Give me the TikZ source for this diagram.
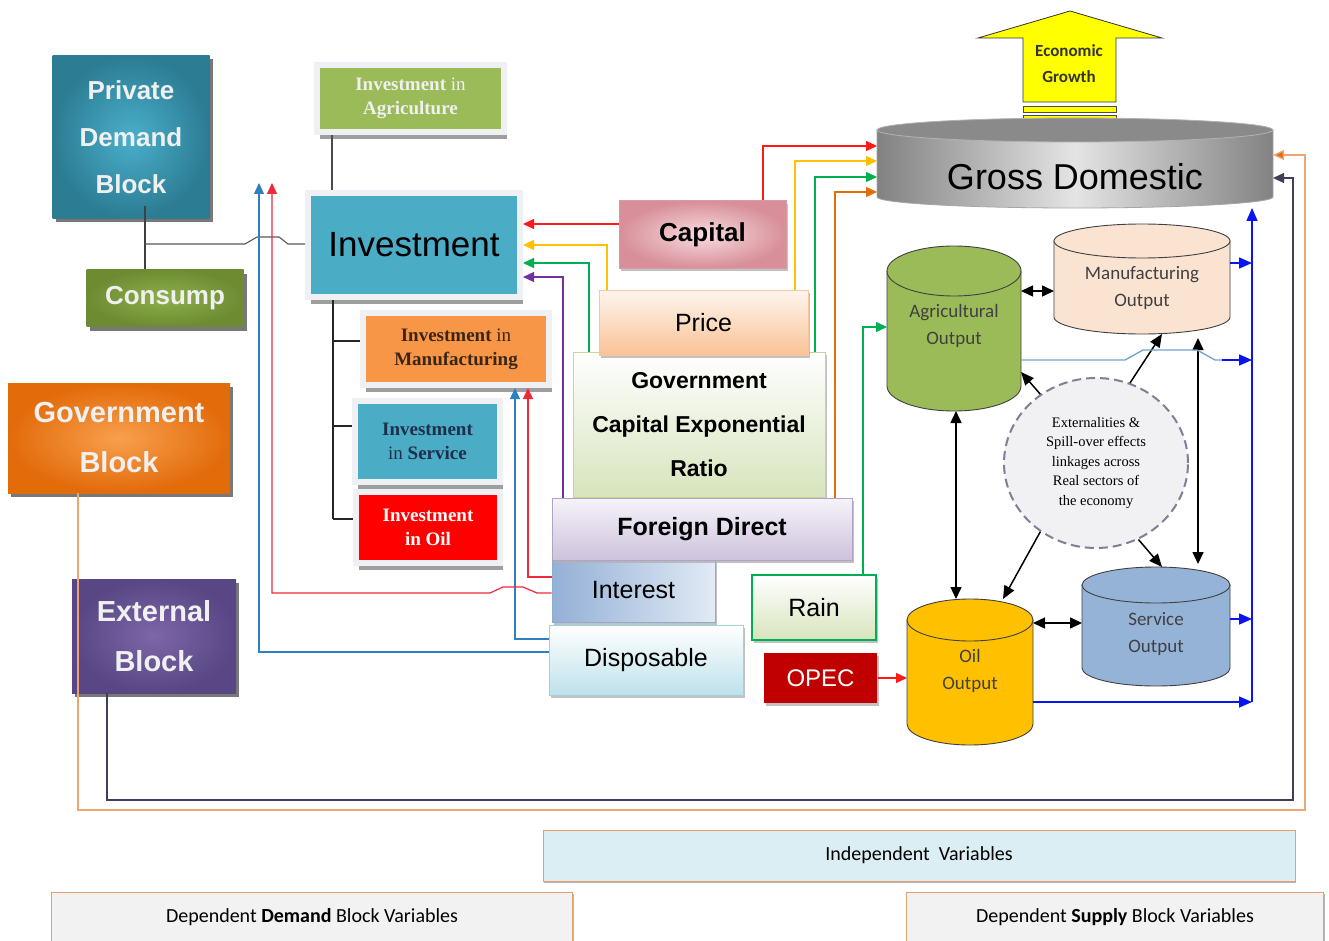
\documentclass[tikz,border=0pt]{standalone}
\usepackage{fontspec}
\setmainfont{Liberation Sans}
\newfontfamily\timesface{Liberation Serif}
\newfontfamily\calibriface{Carlito}
\usetikzlibrary{shadows,arrows.meta,shapes.geometric}

\definecolor{privTeal}{HTML}{2C7C93}
\definecolor{privLight}{HTML}{4AAFCB}
\definecolor{consGreen}{HTML}{6E8B32}
\definecolor{consLight}{HTML}{8CB04A}
\definecolor{govOrange}{HTML}{E26B0A}
\definecolor{govLight}{HTML}{F8A04E}
\definecolor{extPurple}{HTML}{584784}
\definecolor{extLight}{HTML}{7D66A9}
\definecolor{agrGreen}{HTML}{9BBB59}
\definecolor{invBlue}{HTML}{4BACC6}
\definecolor{manOrange}{HTML}{F79646}
\definecolor{manText}{HTML}{3A2616}
\definecolor{serText}{HTML}{1F2E4A}
\definecolor{oilRed}{HTML}{FF0000}
\definecolor{frameGray}{HTML}{EEF0F3}
\definecolor{capInner}{HTML}{F7DCE0}
\definecolor{capOuter}{HTML}{D88F99}
\definecolor{capEdge}{HTML}{D99AA3}
\definecolor{priceTop}{HTML}{FFF5EE}
\definecolor{priceBottom}{HTML}{F9C296}
\definecolor{priceEdge}{HTML}{F7C7A2}
\definecolor{gcerGreen}{HTML}{D7E4BD}
\definecolor{gcerEdge}{HTML}{C3D69B}
\definecolor{fdiTop}{HTML}{F6F3F9}
\definecolor{fdiBottom}{HTML}{CDC2DC}
\definecolor{fdiEdge}{HTML}{B3A2C7}
\definecolor{intDark}{HTML}{93B0D6}
\definecolor{intLight}{HTML}{E2EAF5}
\definecolor{intEdge}{HTML}{8EABD2}
\definecolor{dispBottom}{HTML}{BDE2EB}
\definecolor{dispEdge}{HTML}{9FD2E0}
\definecolor{rainGreen}{HTML}{00B050}
\definecolor{opecRed}{HTML}{C00000}
\definecolor{gdpEdge}{HTML}{828282}
\definecolor{gdpLight}{HTML}{E4E4E4}
\definecolor{gdpTop}{HTML}{8A8A8A}
\definecolor{manuPeach}{HTML}{FBE3D2}
\definecolor{oilGold}{HTML}{FFC000}
\definecolor{servBlue}{HTML}{95B3D7}
\definecolor{spillFill}{HTML}{F1F1F3}
\definecolor{spillEdge}{HTML}{7F7F95}
\definecolor{growthYellow}{HTML}{FFFF00}
\definecolor{lineRed}{HTML}{FF1A1A}
\definecolor{lineYellow}{HTML}{FFC000}
\definecolor{lineGreen}{HTML}{00B050}
\definecolor{linePurple}{HTML}{7030A0}
\definecolor{lineOrange}{HTML}{E46C0A}
\definecolor{loopRed}{HTML}{EE2A3A}
\definecolor{loopBlue}{HTML}{2F7FC1}
\definecolor{sumBlue}{HTML}{0A14F0}
\definecolor{hopBlue}{HTML}{6FA3C8}
\definecolor{extLine}{HTML}{3F3F55}
\definecolor{govLine}{HTML}{EFA474}
\definecolor{legendEdge}{HTML}{E6A06E}
\definecolor{indepFill}{HTML}{DBEEF4}
\definecolor{depFill}{HTML}{F2F2F2}

% drum: name, x, top y, bottom y, x radius, y radius, fill, text y, text
\newcommand{\drumNode}[9]{%
  \path[fill=#7, draw=black!75, line width=0.9pt] (#2-#5,#3) -- (#2-#5,#4)
    arc[start angle=180, end angle=0, x radius=#5, y radius=#6] -- (#2+#5,#3) -- cycle;
  \path[fill=#7, draw=black!75, line width=0.9pt] (#2,#3) ellipse[x radius=#5, y radius=#6];
  \node (#1) at (#2,{(#3+#4)/2}) [inner sep=0pt, outer sep=0pt,
    minimum width={2*#5*1pt}, minimum height={(#4-#3+2*#6)*1pt}] {};
  \node[drumText] (#1Text) at (#2,#8) {#9};
}

\begin{document}
\begin{tikzpicture}
[x=1pt, y=-1pt,
  blockDecorate/.style={shape=rectangle, align=center, inner sep=0pt, text=white!94!black,%
    drop shadow={shadow xshift=3pt, shadow yshift=-4pt, fill=black!75, opacity=0.7}},
  invDecorate/.style={shape=rectangle, align=center, inner sep=0pt, draw=frameGray, line width=6pt,%
    drop shadow={shadow xshift=3pt, shadow yshift=-7pt, fill=black!38, opacity=1},%
    font=\timesface\fontsize{19}{24}\selectfont},
  varDecorate/.style={shape=rectangle, align=center, inner sep=0pt, line width=1pt,%
    drop shadow={shadow xshift=2pt, shadow yshift=-3pt, fill=black!30, opacity=0.8},%
    font=\fontsize{25}{30}\selectfont},
  drumText/.style={align=center, text=black!75, font=\calibriface\fontsize{19}{27}\selectfont},
  legendDecorate/.style={shape=rectangle, draw=legendEdge, line width=0.9pt, inner sep=0pt,%
    drop shadow={shadow xshift=1pt, shadow yshift=-2pt, fill=black!35, opacity=0.8},%
    font=\calibriface\fontsize{20}{24}\selectfont},
  lineDecorate/.style={line width=1.2pt, -{Triangle[length=11pt,width=10pt]}},
  treeLine/.style={line width=1.1pt, black!85},
  blackArrow/.style={line width=1.5pt, black, -{Triangle[length=13pt,width=11pt]}},
  twoWay/.style={line width=1.5pt, black, {Triangle[length=12pt,width=11pt]}-{Triangle[length=12pt,width=11pt]}},
  blueDecorate/.style={line width=1.5pt, sumBlue, -{Triangle[length=13pt,width=11pt]}}]

\useasboundingbox (0,0) rectangle (1329,941);
\fill[white] (0,0) rectangle (1329,941);

%% demand, government and external blocks
\node (priv) at (131,137) [blockDecorate, inner color=privLight, outer color=privTeal,
  minimum width=157pt, minimum height=163pt, font=\fontsize{26}{47}\selectfont\bfseries] {Private\\Demand\\Block};
\node (consump) at (165,298) [blockDecorate, inner color=consLight, outer color=consGreen,
  minimum width=157pt, minimum height=57pt, font=\fontsize{26}{30}\selectfont\bfseries] {Consump};
\node (gov) at (119,438) [blockDecorate, inner color=govLight, outer color=govOrange,
  minimum width=222pt, minimum height=110pt, font=\fontsize{29}{50}\selectfont\bfseries] {Government\\Block};
\node (ext) at (154,636) [blockDecorate, inner color=extLight, outer color=extPurple,
  minimum width=164pt, minimum height=114pt, font=\fontsize{29}{50}\selectfont\bfseries] {External\\Block};

%% investment boxes
\node (invagr) at (410.5,98.5) [invDecorate, fill=agrGreen, text=white!94!black,
  minimum width=187pt, minimum height=67pt] {\textbf{Investment} in\\\textbf{Agriculture}};
\node (inv) at (414,245) [invDecorate, fill=invBlue, minimum width=212pt, minimum height=104pt,
  font=\fontsize{35}{40}\selectfont] {Investment};
\node (invman) at (456,349) [invDecorate, fill=manOrange, text=manText,
  minimum width=186pt, minimum height=72pt] {\textbf{Investment} in\\\textbf{Manufacturing}};
\node (invser) at (427.5,441.5) [invDecorate, fill=invBlue, text=serText,
  minimum width=145pt, minimum height=81pt] {\textbf{Investment}\\in \textbf{Service}};
\node (invoil) at (428,527.5) [invDecorate, fill=oilRed, text=white,
  minimum width=144pt, minimum height=71pt] {\textbf{Investment}\\\textbf{in Oil}};

%% independent variables
\node (gcer) at (699,424.5) [varDecorate, top color=white, bottom color=gcerGreen, draw=gcerEdge,
  minimum width=252pt, minimum height=145pt, font=\fontsize{23}{44}\selectfont\bfseries]
  {Government\\Capital Exponential\\Ratio};
\node (price) at (703.5,322.5) [varDecorate, top color=priceTop, bottom color=priceBottom, draw=priceEdge,
  minimum width=209pt, minimum height=65pt] {Price};
\node (capital) at (702.5,234.5) [varDecorate, inner color=capInner, outer color=capOuter, draw=capEdge,
  minimum width=167pt, minimum height=67pt, font=\fontsize{26}{30}\selectfont\bfseries] {Capital};
\node (interest) at (633.5,590) [varDecorate, left color=intDark, right color=intLight, draw=intEdge,
  minimum width=163pt, minimum height=64pt] {Interest};
\node (fdi) at (702,529) [varDecorate, top color=fdiTop, bottom color=fdiBottom, draw=fdiEdge,
  minimum width=300pt, minimum height=62pt, font=\fontsize{25}{30}\selectfont\bfseries] {Foreign Direct};
\node (dispo) at (646,660) [varDecorate, top color=white, bottom color=dispBottom, draw=dispEdge,
  minimum width=194pt, minimum height=70pt] {Disposable};
\node (rain) at (814,607.5) [varDecorate, top color=white, bottom color=gcerGreen, draw=rainGreen,
  line width=1.8pt, minimum width=124pt, minimum height=65pt] {Rain};
\node (opec) at (820.5,678) [varDecorate, fill=opecRed, text=white,
  minimum width=113pt, minimum height=50pt, font=\fontsize{24}{28}\selectfont] {OPEC};

%% economic growth arrow and gross domestic drum
\path[fill=growthYellow, draw=black!80, line width=0.8pt] (1023,102) -- (1023,38) -- (978,38)
  -- (1070,11) -- (1162,38) -- (1116,38) -- (1116,102) -- cycle;
\foreach \ytop/\ybot in {106/112, 115/119}
  \path[fill=growthYellow, draw=black!70, line width=0.8pt] (1023,\ytop) rectangle (1116,\ybot);
\node (growth) at (1069,64) [align=center, text=black!80,
  font=\calibriface\fontsize{17}{26}\selectfont\bfseries] {Economic\\Growth};
\path[left color=gdpEdge, right color=gdpEdge, middle color=gdpLight, draw=gray!70, line width=0.8pt]
  (877,130) -- (877,197) arc[start angle=180, end angle=0, x radius=198, y radius=11] -- (1273,130) -- cycle;
\path[fill=gdpTop, draw=gray!60, line width=0.8pt] (1075,130) ellipse[x radius=198, y radius=12];
\node (gdp) at (1075,163) [inner sep=0pt, outer sep=0pt, minimum width=396pt, minimum height=90pt] {};
\node (gdpText) at (1075,177) [font=\fontsize{36}{40}\selectfont] {Gross Domestic};

%% sector output drums
\drumNode{agri}{954}{271}{386}{67}{25}{agrGreen}{326}{Agricultural\\Output}
\drumNode{manu}{1142}{241}{317}{88}{17}{manuPeach}{288}{Manufacturing\\Output}
\drumNode{oil}{970}{620}{724}{63}{21}{oilGold}{671}{Oil\\Output}
\drumNode{serv}{1156}{585}{668}{74}{18}{servBlue}{634}{Service\\Output}

\node (spill) at (1096,463) [ellipse, draw=spillEdge, dash pattern=on 9pt off 5pt, line width=2pt,
  fill=spillFill, minimum width=184pt, minimum height=170pt, inner sep=0pt, align=center,
  font=\timesface\fontsize{14.5}{19.5}\selectfont] {Externalities \&\\Spill-over effects\\linkages across\\Real sectors of\\the economy};

%% legend
\node (indep) at (919,855.5) [legendDecorate, fill=indepFill, minimum width=752pt, minimum height=51pt]
  {Independent\ \ Variables};
\node (depdem) at (312,917) [legendDecorate, fill=depFill, minimum width=521pt, minimum height=50pt]
  {Dependent \textbf{Demand} Block Variables};
\node (depsup) at (1115,917) [legendDecorate, fill=depFill, minimum width=417pt, minimum height=50pt]
  {Dependent \textbf{Supply} Block Variables};

%% demand side links
\coordinate (privJoin) at (145,244);
\coordinate (redTip) at (272,183);
\coordinate (blueTip) at (259,183);
\draw[treeLine, black!75] ([xshift=14pt,yshift=13pt]priv.south) -- ([xshift=-20pt]consump.north);
\draw[treeLine, black!65] (privJoin) -- (245,244) -- (257,237) -- (279,237) -- (288,244) -- (inv.west |- privJoin);
\draw[treeLine, black!70] (invagr.south -| 332,0) -- (inv.north -| 332,0);
\draw[treeLine] (inv.south -| 333,0) -- (333,519);
\foreach \branch/\yb in {invman/341, invser/426, invoil/519}
  \draw[treeLine] (333,\yb) -- (\branch.west |- 0,\yb);

\draw[lineDecorate, loopBlue] (dispo.west |- 0,639) -| (invman.south -| 515,0);
\draw[lineDecorate, loopBlue] (dispo.west |- 0,652) -| (blueTip);
\draw[lineDecorate, loopRed] (interest.west |- 0,577) -| (invman.south -| 528,0);
\draw[lineDecorate, loopRed] (interest.west |- 0,593) -- (537,593) -- (523,587) -- (503,587)
  -- (490,593) -| (redTip);

%% variables into investment and gross domestic
\draw[lineDecorate, lineRed] (capital.west |- 0,224) -- (inv.east |- 0,224);
\foreach \source/\xpos/\ypos/\colour in {price/607/245/lineYellow, gcer/589/263/lineGreen, fdi/563/277/linePurple}
  \draw[lineDecorate, \colour] (\source.north -| \xpos,0) |- (inv.east |- 0,\ypos);
\foreach \source/\xpos/\ypos/\colour in {capital/763/146/lineRed, price/795/161/lineYellow,
    gcer/815/177/lineGreen, fdi/835/192/lineOrange}
  \draw[lineDecorate, \colour] (\source.north -| \xpos,0) |- (gdp.west |- 0,\ypos);
\draw[lineDecorate, lineGreen] (rain.north -| 863,0) |- (agri.west |- 0,327);
\draw[lineDecorate, lineRed] (opec.east) -- (oil.west |- opec.east);

%% supply side links
\draw[twoWay] (agri.east |- 0,291) -- (manu.west |- 0,291);
\draw[twoWay] (oil.east |- 0,623) -- (serv.west |- 0,623);
\draw[twoWay] (agri.south -| 956,0) -- (oil.north -| 956,0);
\draw[twoWay, shorten <=4pt, shorten >=3pt] (manu.south -| 1198,0) -- (serv.north -| 1198,0);
\draw[blackArrow] (spill.129) -- (agri.east |- 0,372);
\draw[blackArrow] (spill.67) -- (manu.south -| 1162,0);
\draw[blackArrow] (spill.231) -- (oil.north -| 1003,0);
\draw[blackArrow] (spill.299) -- (serv.north -| 1162,0);

\coordinate (blueFoot) at (1252,702);
\coordinate (agriHop) at (1222,360);
\draw[line width=1.3pt, hopBlue] (agri.east |- 0,360) -- (1125,360) -- (1143,350) -- (1197,350)
  -- (1215,360) -- (agriHop);
\draw[blueDecorate] (blueFoot) -- (gdp.south -| blueFoot);
\draw[blueDecorate] (agriHop) -- (blueFoot |- agriHop);
\foreach \source/\ypos in {manu/263, serv/619}
  \draw[blueDecorate] (\source.east |- 0,\ypos) -- (blueFoot |- 0,\ypos);
\draw[blueDecorate] (oil.east |- blueFoot) -- (blueFoot);

%% government and external feedback
\coordinate (extCorner) at (1293,800);
\coordinate (govCorner) at (1305,810);
\draw[line width=1.3pt, extLine, -{Triangle[length=11pt,width=10pt]}] (ext.south -| 107,0) |- (extCorner)
  |- (gdp.east |- 0,178);
\draw[line width=1.3pt, govLine, -{Triangle[length=11pt,width=10pt,fill=lineOrange]}] (gov.south -| 78,0)
  |- (govCorner) |- (gdp.east |- 0,155);
\end{tikzpicture}
\end{document}
